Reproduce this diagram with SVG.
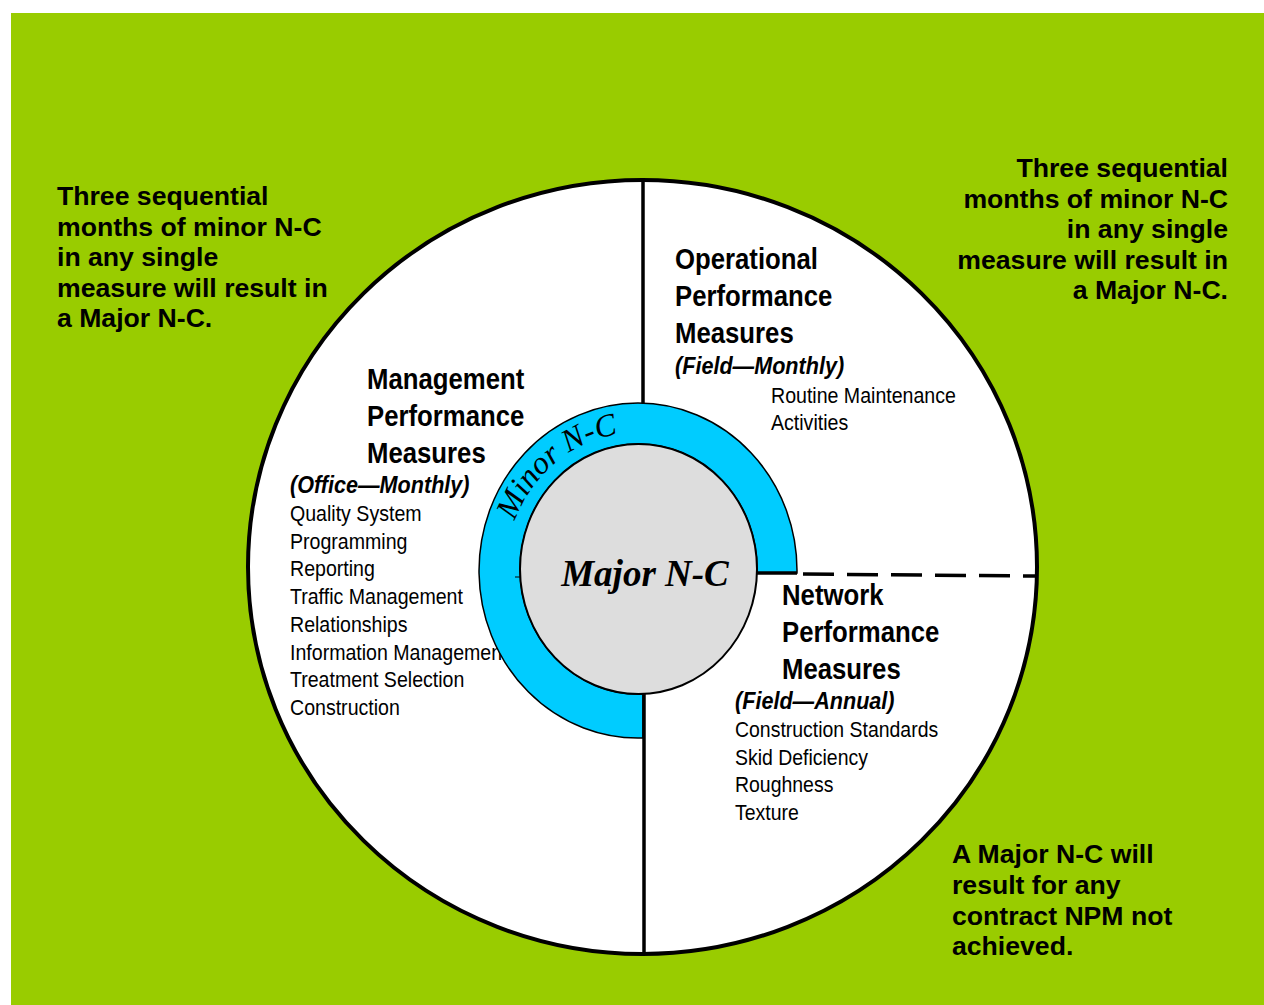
<svg xmlns="http://www.w3.org/2000/svg" xmlns:xlink="http://www.w3.org/1999/xlink" width="1264" height="1005" viewBox="0 0 1264 1005">
<style>
.note{font-family:"Liberation Sans",Arial,sans-serif;font-weight:bold;font-size:25px;fill:#000}
.head{font-family:"Liberation Sans",Arial,sans-serif;font-weight:bold;font-size:30px;fill:#000}
.sub{font-family:"Liberation Sans",Arial,sans-serif;font-weight:bold;font-style:italic;font-size:24px;fill:#000}
.item{font-family:"Liberation Sans",Arial,sans-serif;font-size:22.5px;fill:#000}
.serif{font-family:"Liberation Serif","Times New Roman",serif;font-style:italic;fill:#000}
.ln{stroke:#000;stroke-width:3.5;fill:none}
</style>
<defs>
<path id="minorArc" d="M 506 570 A 132 138 0 0 1 704 451"/>
</defs>
<rect x="11" y="13" width="1253" height="992" fill="#99CC00"/>
<g id="outer-circle">
<ellipse cx="642.5" cy="567" rx="394.5" ry="387" fill="#fff" stroke="#000" stroke-width="4"/>
</g>
<g id="management">
<g transform="translate(367,0) scale(0.858,1)">
<text class="head" x="0" y="389">Management</text>
<text class="head" x="0" y="426">Performance</text>
<text class="head" x="0" y="463">Measures</text>
</g>
<g transform="translate(290,0) scale(0.9,1)">
<text class="sub" x="0" y="493">(Office—Monthly)</text>
</g>
<g transform="translate(290,0) scale(0.87,1)">
<text class="item" x="0" y="521.5">Quality System</text>
<text class="item" x="0" y="549">Programming</text>
<text class="item" x="0" y="576.5">Reporting</text>
<text class="item" x="0" y="604">Traffic Management</text>
<text class="item" x="0" y="632">Relationships</text>
<text class="item" x="0" y="660">Information Management</text>
<text class="item" x="0" y="687">Treatment Selection</text>
<text class="item" x="0" y="715">Construction</text>
</g>
</g>
<g id="minor-nc">
<path d="M 797 573 A 159 167.5 0 1 0 643 738 L 643 694 A 118.5 125 0 1 1 757 573 Z" fill="#00CCFF" stroke="#000" stroke-width="1.5"/>
<text class="serif" font-size="32"><textPath xlink:href="#minorArc" href="#minorArc" startOffset="50">Minor N-C</textPath></text>
</g>
<g id="major-nc">
<ellipse cx="638.5" cy="569" rx="118.5" ry="125" fill="#DDDDDD" stroke="#000" stroke-width="2"/>
<text class="serif" font-weight="bold" font-size="37" x="645" y="586" text-anchor="middle">Major N-C</text>
</g>
<g id="connectors">
<line class="ln" x1="643" y1="181" x2="643" y2="403"/>
<line class="ln" x1="644" y1="694" x2="644" y2="953"/>
<line class="ln" x1="757" y1="573" x2="797" y2="573"/>
<line class="ln" x1="797" y1="574" x2="1037" y2="576" stroke-dasharray="31 13" stroke-dashoffset="38"/>
<line stroke="#000" stroke-width="1" x1="515" y1="577" x2="521" y2="577"/>
</g>
<g id="operational">
<g transform="translate(675,0) scale(0.858,1)">
<text class="head" x="0" y="269">Operational</text>
<text class="head" x="0" y="306">Performance</text>
<text class="head" x="0" y="343">Measures</text>
</g>
<g transform="translate(675,0) scale(0.9,1)">
<text class="sub" x="0" y="374">(Field—Monthly)</text>
</g>
<g transform="translate(771,0) scale(0.87,1)">
<text class="item" x="0" y="403">Routine Maintenance</text>
<text class="item" x="0" y="430">Activities</text>
</g>
</g>
<g id="network">
<g transform="translate(782,0) scale(0.858,1)">
<text class="head" x="0" y="605">Network</text>
<text class="head" x="0" y="642">Performance</text>
<text class="head" x="0" y="679">Measures</text>
</g>
<g transform="translate(735,0) scale(0.9,1)">
<text class="sub" x="0" y="709">(Field—Annual)</text>
</g>
<g transform="translate(735,0) scale(0.865,1)">
<text class="item" x="0" y="737">Construction Standards</text>
<text class="item" x="0" y="765">Skid Deficiency</text>
<text class="item" x="0" y="792.5">Roughness</text>
<text class="item" x="0" y="820">Texture</text>
</g>
</g>
<g id="note-left" transform="translate(57,0) scale(1.065,1)">
<text class="note" x="0" y="205">Three sequential</text>
<text class="note" x="0" y="236">months of minor N-C</text>
<text class="note" x="0" y="266">in any single</text>
<text class="note" x="0" y="297">measure will result in</text>
<text class="note" x="0" y="327">a Major N-C.</text>
</g>
<g id="note-right" text-anchor="end" transform="translate(1228,0) scale(1.065,1)">
<text class="note" x="0" y="177">Three sequential</text>
<text class="note" x="0" y="208">months of minor N-C</text>
<text class="note" x="0" y="238">in any single</text>
<text class="note" x="0" y="269">measure will result in</text>
<text class="note" x="0" y="299">a Major N-C.</text>
</g>
<g id="note-bottom" transform="translate(952,0) scale(1.065,1)">
<text class="note" x="0" y="863">A Major N-C will</text>
<text class="note" x="0" y="894">result for any</text>
<text class="note" x="0" y="925">contract NPM not</text>
<text class="note" x="0" y="955">achieved.</text>
</g>
</svg>
